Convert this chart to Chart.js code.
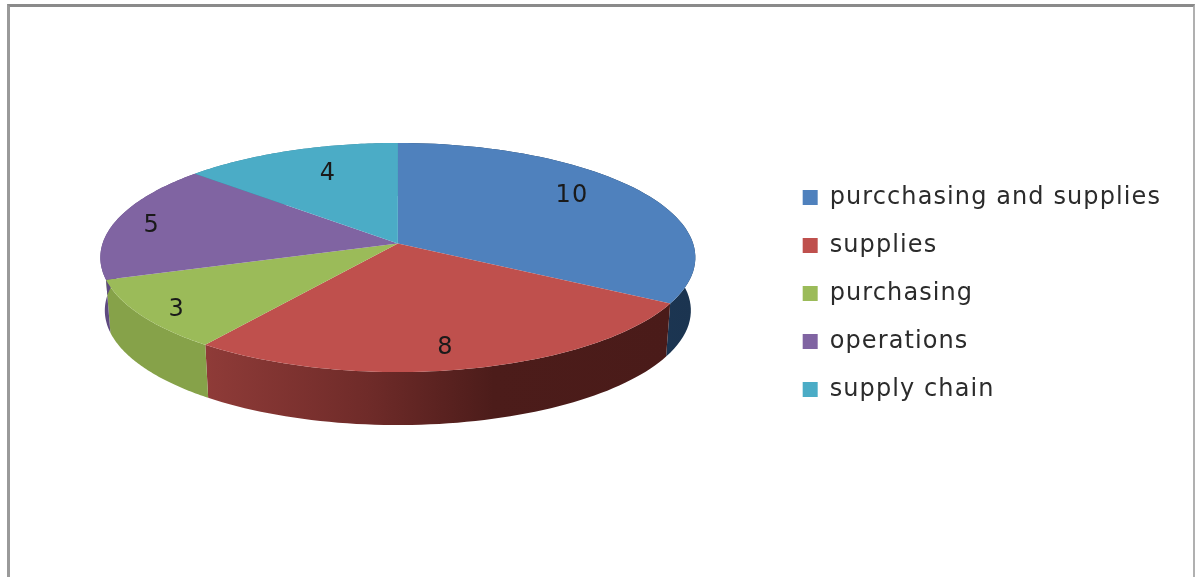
<!DOCTYPE html>
<html>
<head>
<meta charset="utf-8">
<style>
html,body{margin:0;padding:0;background:#fff;overflow:hidden}
#wrap{position:relative;width:1196px;height:577px;background:#fff}
#frame{position:absolute;left:7px;top:4px;width:1188px;height:573px;border-top:3px solid #8a8a8a;border-left:3px solid #9a9a9a;border-right:2px solid #b0b0b0;box-sizing:border-box;border-bottom:0}
canvas{position:absolute;left:0;top:0;filter:blur(0.5px)}
</style>
<script src="https://cdn.jsdelivr.net/npm/chart.js@4/dist/chart.umd.min.js"></script>
</head>
<body>
<div id="wrap"><div id="frame"></div><canvas id="c" width="1196" height="577"></canvas></div>
<script>
const categories = ['purcchasing and supplies','supplies','purchasing','operations','supply chain'];
const values = [10,8,3,5,4];
const topColors = ['#4F81BD','#BF504D','#9BBB59','#8064A2','#4BACC6'];
const wallStops = [
  [[0,'#1F3D5C'],[1,'#1B3450']],
  [[0,'#8F3B38'],[0.35,'#6F2B29'],[0.62,'#4C1C1A'],[1,'#4A1B19']],
  [[0,'#86A249'],[1,'#86A249']],
  [[0,'#5E4A80'],[1,'#5E4A80']],
  [[0,'#3A8296'],[1,'#3A8296']]
];
const labelAlong = [0.444,0.52,0.464,0.495,0.573];
const labelRadial = [0.777,0.83,0.88,0.87,0.734];
const fontFamily = '"DejaVu Sans"';
const tracking = '1.1px';
const tilt = 0.385, apexShift = -0.122, wallDrop = 53, wallNarrow = 0.985, labelNudge = 2;

function project(arc, angle, r){
  const X = r*Math.cos(angle), Y = r*Math.sin(angle);
  const d = 1 + apexShift*Y, s = Math.sqrt(1-apexShift*apexShift);
  return {u: X*s/d, v: (Y+apexShift)/d};
}
function toCanvas(arc,p){
  return {x: arc.x + p.u*arc.outerRadius, y: arc.y + p.v*arc.outerRadius*tilt};
}
const pie3d = {
  id:'pie3d',
  beforeLayout(chart){ chart.ctx.letterSpacing=tracking; },
  beforeDraw(chart){ chart.ctx.letterSpacing=tracking; },
  afterLayout(chart){
    const l = chart.legend, mid = (l.top+l.bottom)/2, dy = 293.5-mid;
    l.top += dy; l.bottom += dy;
    l.legendHitBoxes.forEach(b=>{b.top+=dy;});
  },
  beforeDatasetDraw(chart,args){
    const ctx = chart.ctx, arcs = args.meta.data, STEPS = 60;
    const path = (a)=>{
      const pts=[];
      for(let i=0;i<=STEPS;i++){
        const t=a.startAngle+(a.endAngle-a.startAngle)*i/STEPS;
        pts.push(project(a,t,1));
      }
      return pts;
    };
    arcs.forEach((a,i)=>{
      const pts = path(a);
      const top = pts.map(p=>toCanvas(a,p));
      const bot = pts.map(p=>({x:a.x+p.u*a.outerRadius*wallNarrow,y:a.y+wallDrop+p.v*a.outerRadius*tilt}));
      const xs = bot.concat(top).map(p=>p.x);
      const g = ctx.createLinearGradient(Math.min(...xs),0,Math.max(...xs),0);
      wallStops[i].forEach(s=>g.addColorStop(s[0],s[1]));
      ctx.beginPath();
      top.forEach((p,j)=> j?ctx.lineTo(p.x,p.y):ctx.moveTo(p.x,p.y));
      bot.reverse().forEach(p=>ctx.lineTo(p.x,p.y));
      ctx.closePath();
      ctx.fillStyle=g; ctx.fill();
    });
    arcs.forEach((a,i)=>{
      const top = path(a).map(p=>toCanvas(a,p));
      const c = toCanvas(a,project(a,0,0));
      ctx.beginPath();
      ctx.moveTo(c.x,c.y);
      top.forEach(p=>ctx.lineTo(p.x,p.y));
      ctx.closePath();
      ctx.fillStyle=topColors[i]; ctx.fill();
    });
    ctx.fillStyle='#1a1a1a';
    ctx.font='24px '+fontFamily;
    ctx.textAlign='center'; ctx.textBaseline='middle';
    arcs.forEach((a,i)=>{
      const t=a.startAngle+(a.endAngle-a.startAngle)*labelAlong[i];
      const p=toCanvas(a,project(a,t,labelRadial[i]));
      ctx.fillText(String(values[i]),p.x,p.y+labelNudge);
    });
    return false;
  }
};
new Chart(document.getElementById('c'),{
  type:'pie',
  data:{labels:categories,datasets:[{data:values,backgroundColor:topColors,borderWidth:0,radius:297.5}]},
  plugins:[pie3d],
  options:{
    responsive:false,animation:false,events:[],
    layout:{padding:{left:17,top:0,bottom:62,right:25}},
    plugins:{
      tooltip:{enabled:false},
      legend:{
        position:'right',align:'center',
        labels:{boxWidth:15,boxHeight:15,padding:24,color:'#2b2b2b',font:{family:fontFamily,size:24}}
      }
    }
  }
});
</script>
</body>
</html>
